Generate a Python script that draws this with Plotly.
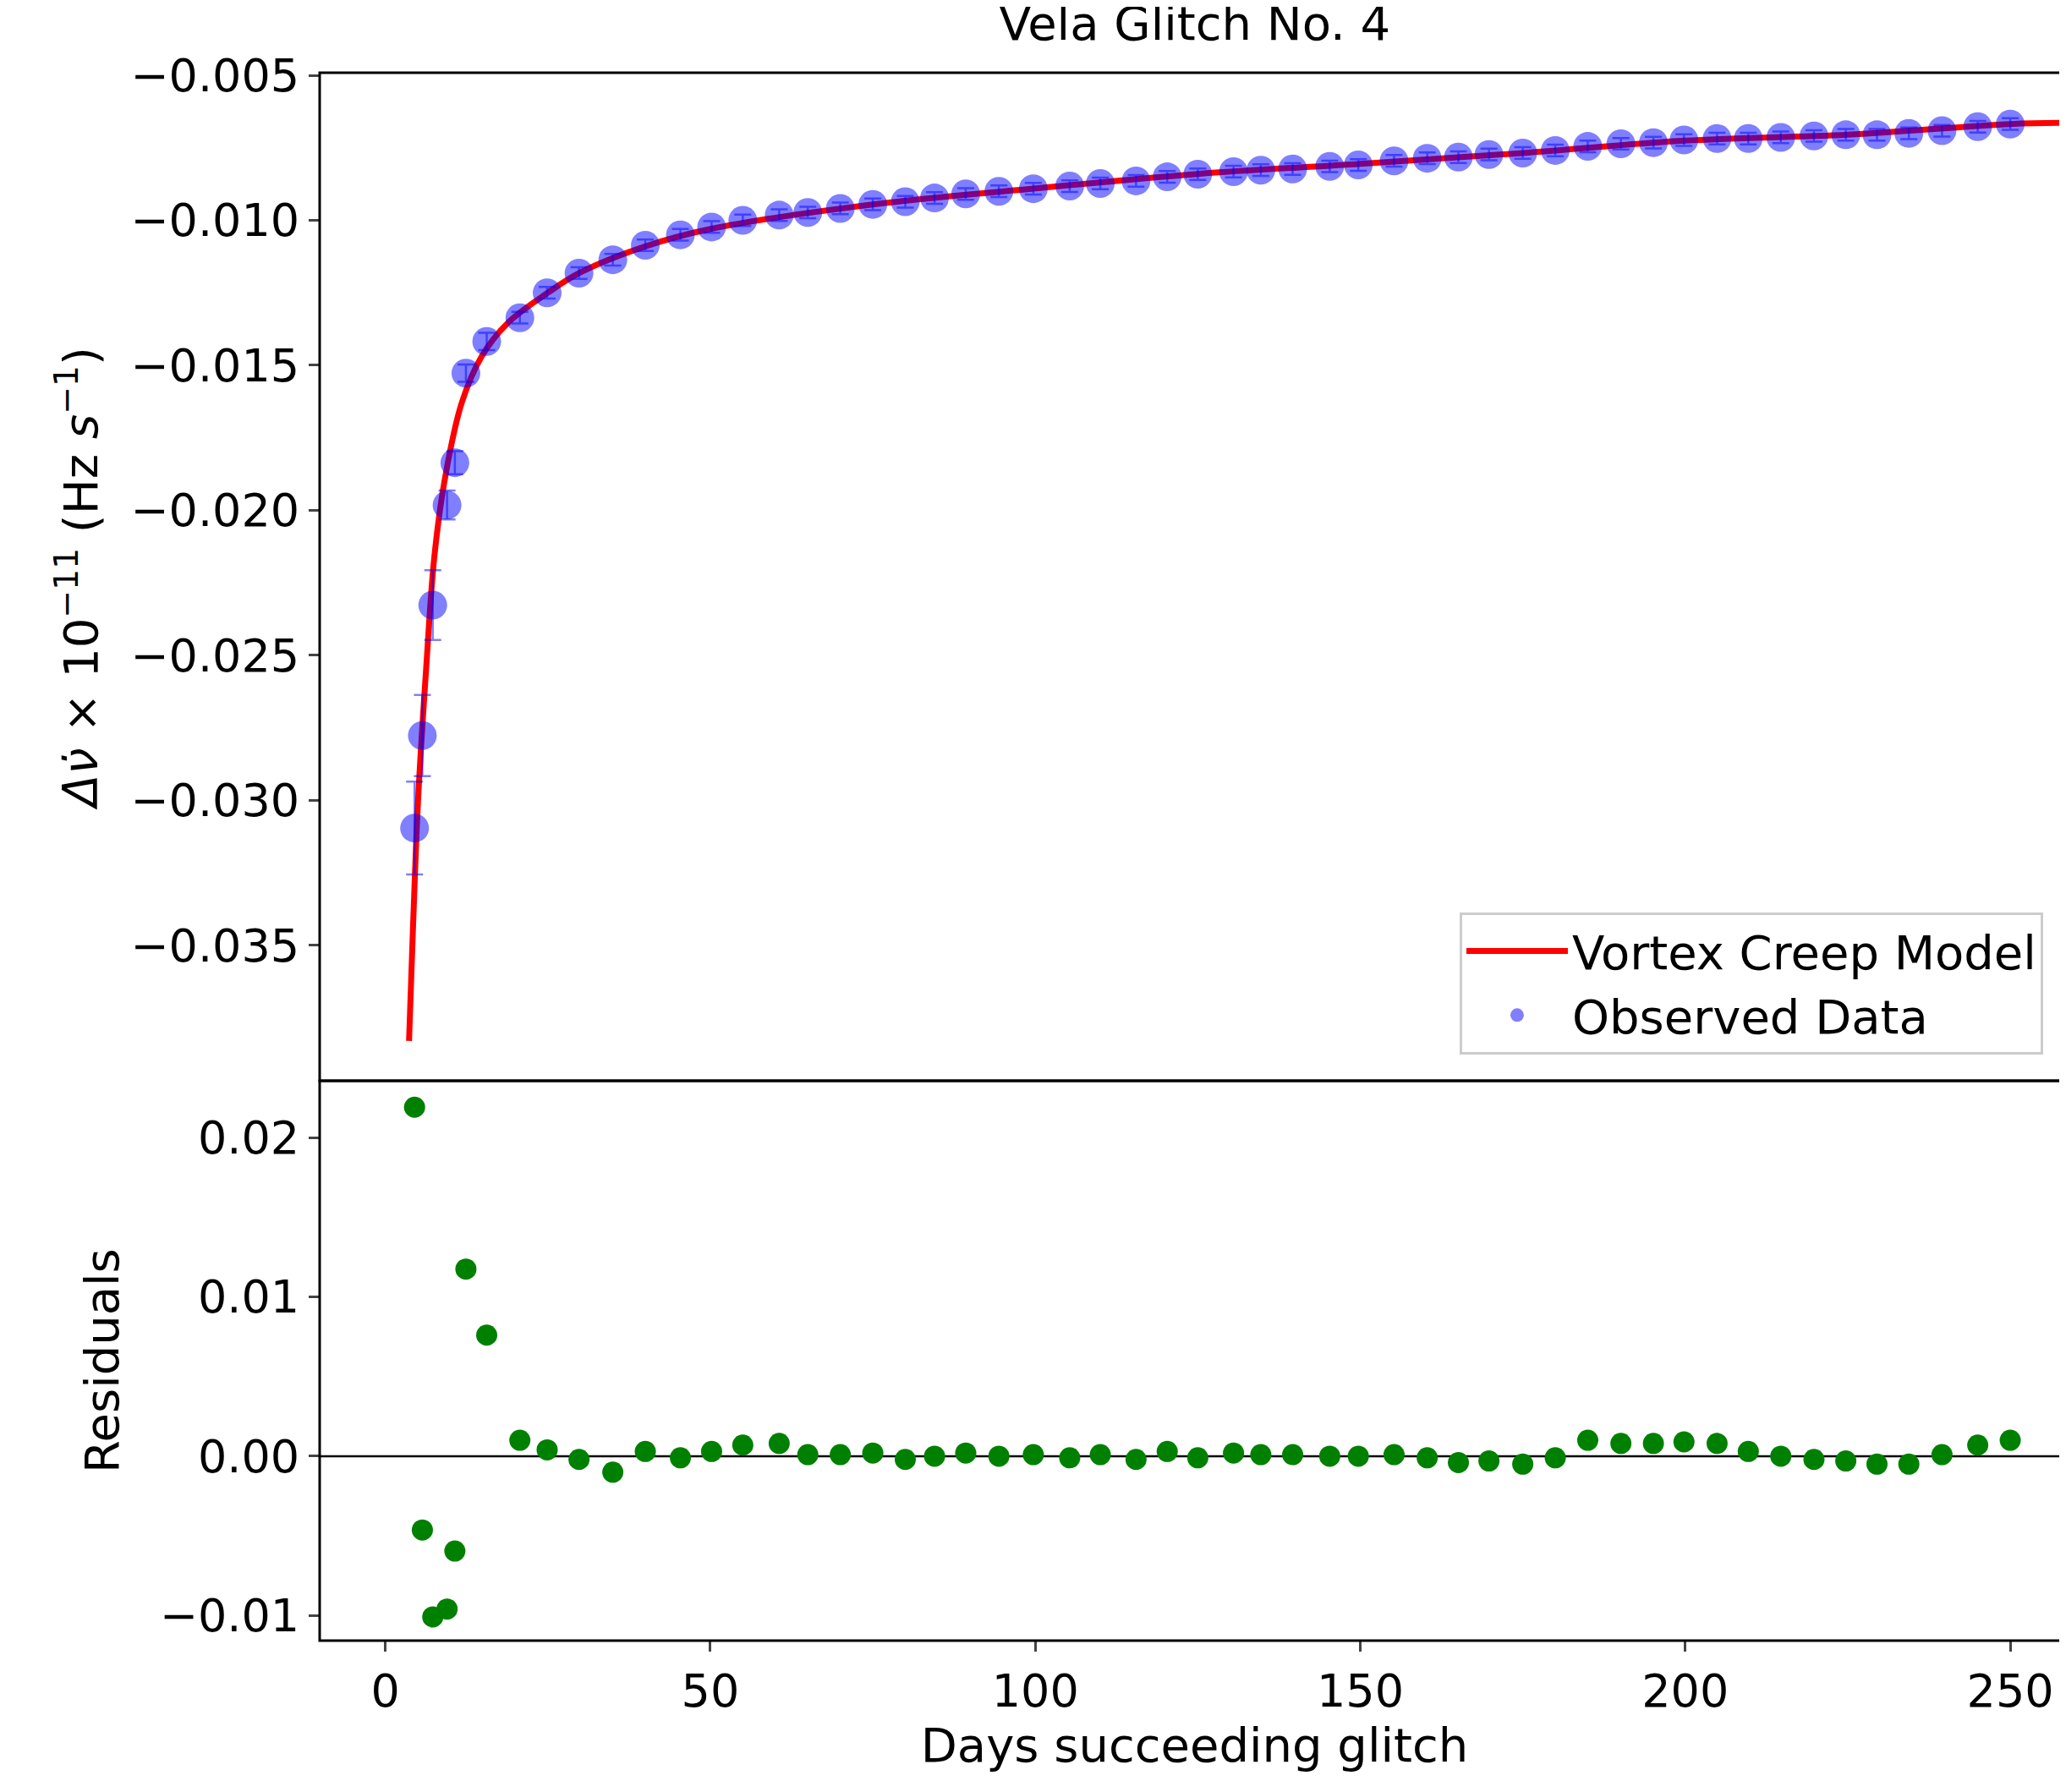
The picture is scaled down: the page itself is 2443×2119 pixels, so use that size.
import plotly.graph_objects as go

days = [4.5, 5.7, 7.3, 9.5, 10.7, 12.4, 15.6, 20.7, 24.9, 29.8, 35, 40, 45.4, 50.2, 55,
        60.6, 65, 70, 75, 80, 84.5, 89.3, 94.4, 99.7, 105.3, 110, 115.5, 120.3, 125,
        130.5, 134.7, 139.6, 145.3, 149.7, 155.2, 160.3, 165.1, 169.8, 175, 180, 185,
        190.1, 195.1, 199.8, 204.9, 209.7, 214.7, 219.8, 224.7, 229.5, 234.4, 239.5,
        245, 250]
obs = [-0.03096, -0.02777, -0.02327, -0.01982, -0.01836, -0.01527, -0.01418, -0.01336,
       -0.0125, -0.01182, -0.01136, -0.01086, -0.0105, -0.01023, -0.01, -0.00982,
       -0.00973, -0.00959, -0.00945, -0.00936, -0.00923, -0.00909, -0.009, -0.00891,
       -0.00882, -0.00873, -0.00864, -0.0085, -0.00841, -0.00832, -0.00827, -0.00823,
       -0.00814, -0.00809, -0.00795, -0.00786, -0.00782, -0.00773, -0.00768, -0.00759,
       -0.00745, -0.00736, -0.00732, -0.00723, -0.00718, -0.00718, -0.00714, -0.00709,
       -0.00705, -0.00705, -0.007, -0.00691, -0.00677, -0.00668]
err = [0.0016, 0.0014, 0.0012, 0.0005, 0.0004, 0.0003, 0.0003] + [0.0002] * 47
resid = [0.0219, -0.00463, -0.01008, -0.00959, -0.00595, 0.01174, 0.0076, 0.001, 0.0004,
         -0.0002, -0.001, 0.0003, -0.0001, 0.0003, 0.0007, 0.0008, 0.0001, 0.0001, 0.0002,
         -0.0002, 0.0, 0.0002, 0.0, 0.0001, -0.0001, 0.0001, -0.0002, 0.0003, -0.0001,
         0.0002, 0.0001, 0.0001, 0.0, 0.0, 0.0001, -0.0001, -0.0004, -0.0003, -0.0005,
         -0.0001, 0.001, 0.0008, 0.0008, 0.0009, 0.0008, 0.0003, 0.0, -0.0002, -0.0003,
         -0.0005, -0.0005, 0.0001, 0.0007, 0.001]

model_days = [3.65, 4.25, 5.06, 6.3, 7.5, 9.1, 11.75, 14.8, 18.8, 25, 30, 40, 50, 75,
              100, 125, 150, 175, 200, 225, 250, 259.1]
model_vals = [-0.0383, -0.03445, -0.0299, -0.0254, -0.0217, -0.019, -0.0163, -0.0147,
              -0.01355, -0.0125, -0.0118, -0.0109, -0.0103, -0.00945, -0.0089, -0.0084,
              -0.00805, -0.00768, -0.00725, -0.00705, -0.00668, -0.00664]

FONT = 'DejaVu Sans'
TICK = 54
LABEL = 56
SPLIT = 0.357
axis_style = dict(showgrid=False, zeroline=False, showline=False,
                  ticks='outside', ticklen=12, tickwidth=3,
                  tickfont=dict(size=TICK, color='black'))

traces = [
    go.Scatter(x=model_days, y=model_vals, mode='lines', line=dict(color='red', width=7, shape='spline'),
               name='Vortex Creep Model', xaxis='x', yaxis='y2'),
    go.Scatter(x=days, y=obs, mode='markers', name='Observed Data',
               marker=dict(color='rgba(0,0,255,0.5)', size=34),
               error_y=dict(type='data', array=err, color='rgba(0,0,255,0.5)', thickness=2.5, width=10),
               xaxis='x', yaxis='y2'),
    go.Scatter(x=[-10.1, 259.1], y=[0, 0], mode='lines', line=dict(color='black', width=2.5),
               showlegend=False, xaxis='x', yaxis='y'),
    go.Scatter(x=days, y=resid, mode='markers', marker=dict(color='green', size=25),
               showlegend=False, xaxis='x', yaxis='y'),
]

frames = [
    dict(type='rect', xref='paper', yref='paper', x0=0, x1=1, y0=0, y1=SPLIT,
         line=dict(color='black', width=3), layer='above'),
    dict(type='rect', xref='paper', yref='paper', x0=0, x1=1, y0=SPLIT, y1=1,
         line=dict(color='black', width=3), layer='above'),
]

layout = dict(
    width=2443, height=2119,
    paper_bgcolor='white', plot_bgcolor='white',
    font=dict(family=FONT, color='black'),
    margin=dict(l=370, r=4, t=78, b=187),
    shapes=frames,
    title=dict(text='Vela Glitch No. 4', x=0.575, xanchor='center', y=1.0, yanchor='top',
               font=dict(size=LABEL)),
    xaxis=dict(axis_style, range=[-10.1, 259.1], tickvals=[0, 50, 100, 150, 200, 250],
               domain=[0, 1], anchor='y',
               title=dict(text='Days succeeding glitch', font=dict(size=LABEL), standoff=6)),
    yaxis=dict(axis_style, domain=[0, SPLIT], range=[-0.01157, 0.02355],
               tickvals=[-0.01, 0, 0.01, 0.02], ticktext=['−0.01', '0.00', '0.01', '0.02'],
               title=dict(text='Residuals', font=dict(size=LABEL), standoff=30)),
    yaxis2=dict(axis_style, domain=[SPLIT, 1], range=[-0.03968, -0.00491], anchor='x',
                tickvals=[-0.035, -0.03, -0.025, -0.02, -0.015, -0.01, -0.005],
                ticktext=['−0.035', '−0.030', '−0.025', '−0.020', '−0.015', '−0.010', '−0.005'],
                title=dict(text='<i>Δν̇</i> × 10<sup>−11</sup> (Hz <i>s</i><sup>−1</sup>)',
                           font=dict(size=LABEL), standoff=20)),
    legend=dict(x=0.985, y=0.374, xanchor='right', yanchor='bottom', bgcolor='white',
                bordercolor='#cccccc', borderwidth=3, font=dict(size=LABEL),
                itemwidth=120, tracegroupgap=20),
)

fig = go.Figure(data=traces, layout=layout)
fig.write_html('out.html')
